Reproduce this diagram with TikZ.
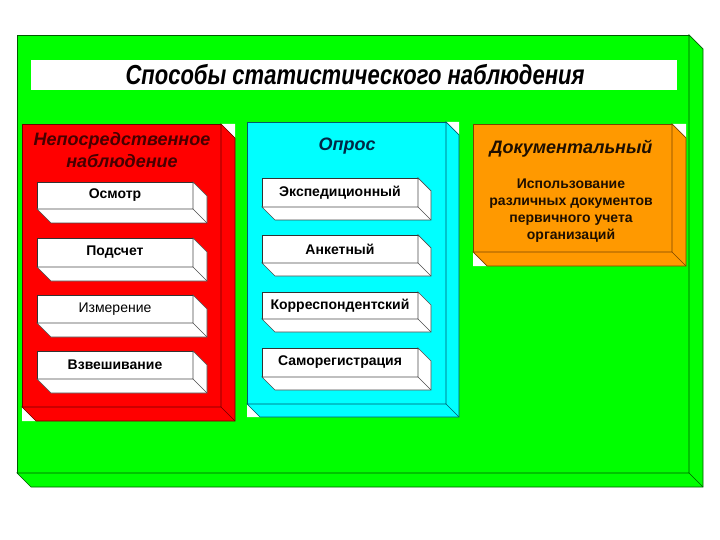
\documentclass[tikz,border=0pt]{standalone}
\usepackage{fontspec}
\setmainfont{Liberation Sans}
\usetikzlibrary{calc}
\definecolor{lgreen}{RGB}{0,255,0}
\definecolor{dgreen}{RGB}{0,90,0}
\definecolor{bred}{RGB}{255,0,0}
\definecolor{dred}{RGB}{110,0,0}
\definecolor{bcyan}{RGB}{0,255,255}
\definecolor{dcyan}{RGB}{0,90,110}
\definecolor{borange}{RGB}{255,153,0}
\definecolor{dorange}{RGB}{120,70,0}
\definecolor{tred}{RGB}{70,0,0}
\definecolor{tcyan}{RGB}{0,40,70}
\definecolor{tor}{RGB}{30,15,0}
\tikzset{
  face/.style={rectangle, inner sep=0pt, outer sep=0pt, anchor=north west, line width=0.7pt},
  subbox/.style={face, fill=white, draw=black!80, minimum width=156pt, font=\fontsize{14}{16}\selectfont\bfseries},
  heading/.style={font=\fontsize{18}{22}\selectfont\bfseries\itshape, align=center, inner sep=0pt},
}
% #1 node, #2 fill, #3 draw, #4 depth
\newcommand\extrude[4]{%
  \filldraw[fill=#2, draw=#3, line width=0.7pt] (#1.north east) -- ++(#4,#4)
    -- ($(#1.south east)+(#4,#4)$) -- ($(#1.south west)+(#4,#4)$)
    -- (#1.south west) -- (#1.south east) -- cycle;
  \draw[#3, line width=0.5pt] (#1.south east) -- ++(#4,#4);
}
\newcommand\corners[2]{%
  \fill[white] (#1.north east) -- ++(#2,0) -- ++(0,#2) -- cycle;
  \fill[white] (#1.south west) -- ++(0,#2) -- ++(#2,0) -- cycle;
}
\begin{document}
\begin{tikzpicture}[x=1pt, y=-1pt]
\useasboundingbox (0,0) rectangle (720,540);
\fill[white] (0,0) rectangle (720,540);

% main green box
\node[face, fill=lgreen, draw=dgreen, minimum width=672pt, minimum height=438pt] (main) at (17,35) {};
\corners{main}{14}
\extrude{main}{lgreen}{dgreen}{14}

% title bar
\node[face, fill=white, minimum width=646pt, minimum height=30pt] (titlebar) at (31,60) {};
\node[font=\fontsize{22}{26}\selectfont\bfseries\itshape, inner sep=0pt] (title) at (355,75) {\scalebox{1}[1.25]{Способы статистического наблюдения}};

% red box
\node[face, fill=bred, draw=dred, minimum width=199pt, minimum height=283pt] (red) at (22,124) {};
\corners{red}{14}
\extrude{red}{bred}{dred}{14}
\node[heading, text=tred] (redtitle) at (122,150) {Непосредственное\\наблюдение};

\node[subbox, minimum height=27pt] (s1) at (37,182) {Осмотр};
\extrude{s1}{white}{black!70}{14}
\node[subbox, minimum height=29pt] (s2) at (37,238) {Подсчет};
\extrude{s2}{white}{black!70}{14}
\node[subbox, minimum height=28pt, font=\fontsize{14}{16}\selectfont] (s3) at (37,295) {Измерение};
\extrude{s3}{white}{black!70}{14}
\node[subbox, minimum height=28pt] (s4) at (37,351) {Взвешивание};
\extrude{s4}{white}{black!70}{14}

% cyan box
\node[face, fill=bcyan, draw=dcyan, minimum width=199pt, minimum height=282pt] (cyan) at (247,122) {};
\corners{cyan}{13}
\extrude{cyan}{bcyan}{dcyan}{13}
\node[heading, text=tcyan] (cyantitle) at (347,146) {Опрос};

\node[subbox, minimum height=29pt] (c1) at (262,178) {Экспедиционный};
\extrude{c1}{white}{black!70}{13}
\node[subbox, minimum height=28pt] (c2) at (262,235) {Анкетный};
\extrude{c2}{white}{black!70}{13}
\node[subbox, minimum height=27pt] (c3) at (262,292) {Корреспондентский};
\extrude{c3}{white}{black!70}{13}
\node[subbox, minimum height=29pt] (c4) at (262,348) {Саморегистрация};
\extrude{c4}{white}{black!70}{13}

% orange box
\node[face, fill=borange, draw=dorange, minimum width=199pt, minimum height=128pt] (orange) at (473,124) {};
\corners{orange}{14}
\extrude{orange}{borange}{dorange}{14}
\node[heading, text=tor] (ortitle) at (571,149) {Документальный};
\node[align=center, inner sep=0pt, text=tor, font=\fontsize{14}{17}\selectfont\bfseries] (ortext) at (571,211) {Использование\\различных документов\\первичного учета\\организаций};
\end{tikzpicture}
\end{document}
